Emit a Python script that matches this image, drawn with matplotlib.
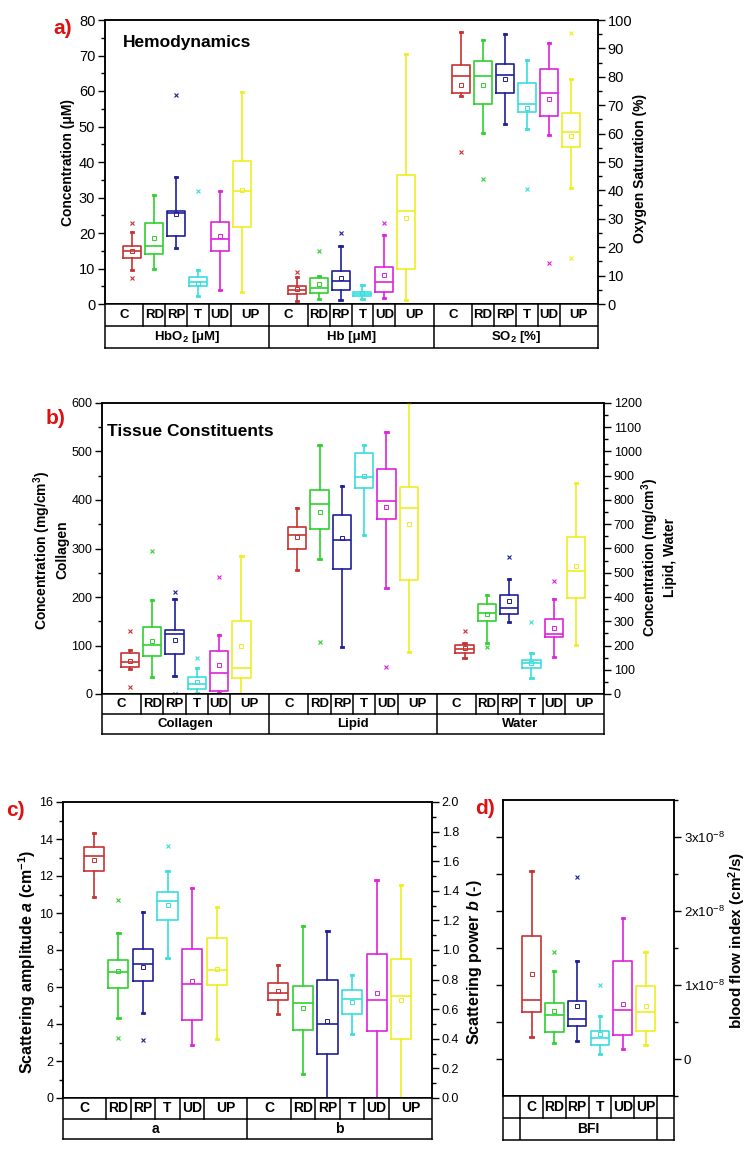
import numpy as np
import matplotlib
matplotlib.use("Agg")
import matplotlib.pyplot as plt
from matplotlib.ticker import MultipleLocator, FuncFormatter

plt.rcParams['font.family'] = ['Liberation Sans', 'DejaVu Sans']
plt.rcParams['mathtext.fontset'] = 'custom'
plt.rcParams['mathtext.rm'] = 'Liberation Sans'
plt.rcParams['mathtext.bf'] = 'Liberation Sans:bold'
plt.rcParams['mathtext.it'] = 'Liberation Sans:italic:bold'

CATS = ['C', 'RD', 'RP', 'T', 'UD', 'UP']
COLORS = ['#c83232', '#2ed22e', '#1f1f99', '#3adede', '#dd22dd', '#eeee22']

# each row: whisker low, q1, median, q3, whisker high, mean
HBO2 = [(9.6, 12.9, 14.9, 16.4, 20.2, 14.9),
        (10.0, 14.1, 16.4, 22.7, 30.8, 18.6),
        (15.8, 19.2, 25.5, 26.3, 35.8, 25.3),
        (2.3, 5.2, 6.3, 7.6, 9.6, 6.0),
        (3.9, 14.9, 18.2, 23.2, 31.8, 19.2),
        (3.3, 21.7, 31.9, 40.3, 59.7, 32.0)]
HBO2_OUT = [[7.4, 22.8], [], [58.9], [31.8], [], []]

HB = [(0.9, 2.7, 3.85, 5.2, 7.6, 4.3),
      (1.3, 3.2, 4.4, 7.3, 7.8, 5.7),
      (1.2, 4.0, 6.5, 9.3, 16.4, 7.3),
      (1.4, 2.2, 2.8, 3.5, 5.3, 3.0),
      (1.8, 3.5, 6.1, 10.4, 19.3, 8.2),
      (1.2, 9.8, 26.2, 36.4, 70.5, 24.2)]
HB_OUT = [[9.0], [15.0], [20.0], [], [22.7], []]

SO2 = [(73.1, 74.3, 80.4, 84.3, 95.7, 77.2),
       (60.1, 70.4, 80.4, 85.7, 93.0, 77.2),
       (63.3, 74.3, 80.8, 84.5, 95.1, 79.3),
       (61.5, 67.5, 70.5, 77.9, 85.9, 69.1),
       (59.5, 66.3, 74.4, 82.7, 92.0, 72.1),
       (40.8, 55.2, 60.4, 67.4, 79.2, 59.2)]
SO2_OUT = [[53.4], [44.0], [], [40.6], [14.6], [95.3, 16.1]]

COLLAGEN = [(52, 56, 65, 84, 91, 69),
            (36, 79, 101, 138, 194, 110),
            (37, 83, 123, 132, 196, 112),
            (2, 10, 20, 35, 54, 24),
            (2, 5.5, 44, 88, 122, 59),
            (0, 32, 54, 151, 284, 100)]
COLLAGEN_OUT = [[15, 130], [294], [210, 0], [74], [242], []]

LIPID = [(513, 596, 655, 690, 768, 648),
         (556, 680, 785, 841, 1026, 749),
         (192, 517, 634, 738, 859, 645),
         (654, 850, 895, 992, 1026, 899),
         (439, 720, 797, 927, 1080, 772),
         (174, 472, 768, 852, 1200, 703)]
LIPID_OUT = [[], [215], [], [], [110], []]

WATER = [(148, 171, 186, 204, 210, 189),
         (211, 303, 334, 370, 410, 328),
         (297, 328, 353, 408, 474, 383),
         (65, 109, 128, 142, 171, 127),
         (154, 233, 248, 310, 390, 272),
         (201, 397, 508, 648, 870, 527)]
WATER_OUT = [[261], [193], [566], [295], [465], []]

SCAT_A = [(10.84, 12.28, 13.09, 13.59, 14.35, 12.87),
          (4.30, 5.93, 6.83, 7.48, 8.93, 6.87),
          (4.57, 6.31, 7.23, 8.05, 10.05, 7.07),
          (7.57, 9.62, 10.66, 11.13, 12.26, 10.45),
          (2.86, 4.21, 6.18, 8.07, 11.36, 6.33),
          (3.20, 6.11, 6.90, 8.65, 10.30, 6.95)]
SCAT_A_OUT = [[], [10.70, 3.22], [3.11], [13.63], [], []]

SCAT_B = [(0.57, 0.66, 0.71, 0.78, 0.90, 0.72),
          (0.16, 0.46, 0.645, 0.755, 1.16, 0.61),
          (0.0, 0.30, 0.50, 0.80, 1.13, 0.52),
          (0.43, 0.57, 0.67, 0.73, 0.83, 0.65),
          (0.0, 0.45, 0.66, 0.97, 1.47, 0.71),
          (0.0, 0.40, 0.69, 0.94, 1.44, 0.66)]
SCAT_B_OUT = [[], [], [], [], [], []]

# blood flow index in units of 1e-8 cm^2/s
BFI = [(0.30, 0.64, 0.80, 1.66, 2.54, 1.15),
       (0.21, 0.37, 0.59, 0.76, 1.19, 0.65),
       (0.24, 0.44, 0.54, 0.79, 1.32, 0.72),
       (0.07, 0.19, 0.29, 0.38, 0.58, 0.34),
       (0.135, 0.33, 0.66, 1.32, 1.91, 0.75),
       (0.19, 0.38, 0.63, 0.99, 1.45, 0.71)]
BFI_OUT = [[], [1.45], [2.46], [1.00], [], []]

GW = 7.5  # width of one group in x units
W, H = 750, 1149
fig = plt.figure(figsize=(W / 100, H / 100), dpi=100)


def fr(l, t, r, b):
    return [l / W, 1 - b / H, (r - l) / W, (b - t) / H]


def boxes(ax, stats, outs, x0):
    for i, (s, o) in enumerate(zip(stats, outs)):
        lo, q1, med, q3, hi, mean = s
        c = COLORS[i]
        x = x0 + 1.25 + i
        d = dict(whislo=lo, q1=q1, med=med, q3=q3, whishi=hi,
                 fliers=np.array(o, dtype=float))
        ax.bxp([d], positions=[x], widths=0.82, capwidths=0.1,
               showmeans=False, manage_ticks=False,
               boxprops=dict(color=c, lw=1.2),
               whiskerprops=dict(color=c, lw=1.2),
               capprops=dict(color=c, lw=2.0),
               medianprops=dict(color=c, lw=1.2),
               flierprops=dict(marker='x', markeredgecolor=c, markersize=3.5,
                               markeredgewidth=0.8, linestyle='none'))
        ax.plot([x], [mean], marker='s', markerfacecolor='none', markeredgecolor=c,
                markersize=3.5, markeredgewidth=0.7, linestyle='none')


def yaxis(ax, lim, major, minor, side, fs):
    ax.set_ylim(*lim)
    ax.yaxis.set_major_locator(MultipleLocator(major))
    ax.yaxis.set_minor_locator(MultipleLocator(minor))
    left = side == 'left'
    ax.tick_params(axis='y', which='both', direction='out', left=left, right=not left,
                   labelleft=left, labelright=not left, labelsize=fs, width=1)
    ax.tick_params(axis='y', which='major', length=5, pad=2)
    ax.tick_params(axis='y', which='minor', length=3)
    ax.tick_params(axis='x', bottom=False, labelbottom=False)
    for sp in ax.spines.values():
        sp.set_linewidth(1.1)


def table(rect, ngroups, names, fs, edges1=None, labels1=None, edges2=None):
    t = fig.add_axes(rect)
    t.set_xlim(0, ngroups * GW)
    t.set_ylim(0, 2)
    t.set_xticks([])
    t.set_yticks([])
    for sp in t.spines.values():
        sp.set_linewidth(1.1)
    t.axhline(1, color='k', lw=1.1)
    if edges1 is None:
        edges1, labels1, edges2 = [], [], [0]
        for g in range(ngroups):
            x0 = g * GW
            edges1 += [x0] + [x0 + 1.75 + k for k in range(5)]
            labels1 += CATS
            edges2.append(x0 + GW)
        edges1.append(ngroups * GW)
    for e in edges1[1:-1]:
        t.plot([e, e], [1, 2], color='k', lw=1.1)
    for e in edges2[1:-1]:
        t.plot([e, e], [0, 1], color='k', lw=1.1)
    for a, b, lab in zip(edges1[:-1], edges1[1:], labels1):
        t.text((a + b) / 2, 1.5, lab, ha='center', va='center', fontsize=fs, fontweight='bold')
    for a, b, lab in zip(edges2[:-1], edges2[1:], names):
        t.text((a + b) / 2, 0.5, lab, ha='center', va='center', fontsize=fs, fontweight='bold')
    return t


def label(x, y, s, fs, rot=90):
    fig.text(x / W, 1 - y / H, s, rotation=rot, ha='center', va='center',
             fontsize=fs, fontweight='bold')


# ---- panel a
ax = fig.add_axes(fr(105, 20, 598, 304))
ax.set_xlim(0, 3 * GW)
boxes(ax, HBO2, HBO2_OUT, 0)
boxes(ax, HB, HB_OUT, GW)
yaxis(ax, (0, 80), 10, 5, 'left', 10.5)
tw = ax.twinx()
tw.set_xlim(0, 3 * GW)
boxes(tw, SO2, SO2_OUT, 2 * GW)
yaxis(tw, (0, 100), 10, 5, 'right', 10.5)
table(fr(105, 304, 598, 348), 3,
      ['HbO$_\\mathbf{2}$ [μM]', 'Hb [μM]', 'SO$_\\mathbf{2}$ [%]'], 9.5)
fig.text(63 / W, 1 - 28 / H, 'a)', color='#dd1111', fontsize=15, fontweight='bold', ha='center', va='center')
fig.text(123 / W, 1 - 43 / H, 'Hemodynamics', fontsize=12.5, fontweight='bold', va='center')
label(68, 162, 'Concentration (μM)', 10)
label(640, 168, 'Oxygen Saturation (%)', 10)

# ---- panel b
ax = fig.add_axes(fr(102, 403, 604, 694))
ax.set_xlim(0, 3 * GW)
boxes(ax, COLLAGEN, COLLAGEN_OUT, 0)
yaxis(ax, (0, 600), 100, 50, 'left', 9)
tw = ax.twinx()
tw.set_xlim(0, 3 * GW)
boxes(tw, LIPID, LIPID_OUT, GW)
boxes(tw, WATER, WATER_OUT, 2 * GW)
yaxis(tw, (0, 1200), 100, 50, 'right', 9)
table(fr(102, 694, 604, 734), 3, ['Collagen', 'Lipid', 'Water'], 9.5)
fig.text(56 / W, 1 - 418 / H, 'b)', color='#dd1111', fontsize=15, fontweight='bold', ha='center', va='center')
fig.text(107 / W, 1 - 431 / H, 'Tissue Constituents', fontsize=12.5, fontweight='bold', va='center')
label(50, 550, 'Concentration (mg/cm$^\\mathbf{3}$)\nCollagen', 10)
label(658, 557, 'Concentration (mg/cm$^\\mathbf{3}$)\nLipid, Water', 10)

# ---- panel c
ax = fig.add_axes(fr(63, 802, 432, 1098))
ax.set_xlim(0, 2 * GW)
boxes(ax, SCAT_A, SCAT_A_OUT, 0)
yaxis(ax, (0, 16), 2, 1, 'left', 9)
tw = ax.twinx()
tw.set_xlim(0, 2 * GW)
boxes(tw, SCAT_B, SCAT_B_OUT, GW)
yaxis(tw, (0, 2.0), 0.2, 0.1, 'right', 9)
tw.yaxis.set_major_formatter(FuncFormatter(lambda v, p: '%.1f' % v))
table(fr(63, 1098, 432, 1139), 2, ['a', 'b'], 10)
fig.text(15 / W, 1 - 810 / H, 'c)', color='#dd1111', fontsize=15, fontweight='bold', ha='center', va='center')
label(27, 962, 'Scattering amplitude $a$ (cm$^{\\mathbf{-1}}$)', 11.5)
label(475, 962, 'Scattering power $b$ (-)', 11.5)

# ---- panel d
ax = fig.add_axes(fr(503, 800, 674, 1096))
ax.set_xlim(0, GW)
boxes(ax, BFI, BFI_OUT, 0)
ax.set_ylim(-0.5, 3.5)
ax.set_yticks([0, 0.5, 1, 1.5, 2, 2.5, 3])
ax.tick_params(axis='y', direction='out', length=5, width=1, labelleft=False)
ax.tick_params(axis='x', bottom=False, labelbottom=False)
for sp in ax.spines.values():
    sp.set_linewidth(1.1)
tw = ax.twinx()
yaxis(tw, (-0.5, 3.5), 1, 0.5, 'right', 9.5)
tw.yaxis.set_major_formatter(FuncFormatter(lambda v, p: '0' if v == 0 else '%dx10$^{-8}$' % v))
table(fr(503, 1096, 674, 1140), 1, ['', 'BFI', ''], 10,
      edges1=[0, 0.75, 1.75, 2.75, 3.75, 4.75, 5.75, 6.75, 7.5],
      labels1=[''] + CATS + [''],
      edges2=[0, 0.75, 6.75, 7.5])
fig.text(485 / W, 1 - 809 / H, 'd)', color='#dd1111', fontsize=15, fontweight='bold', ha='center', va='center')
label(737, 940, 'blood flow index (cm$^\\mathbf{2}$/s)', 11)

fig.savefig('out.png', dpi=100)
